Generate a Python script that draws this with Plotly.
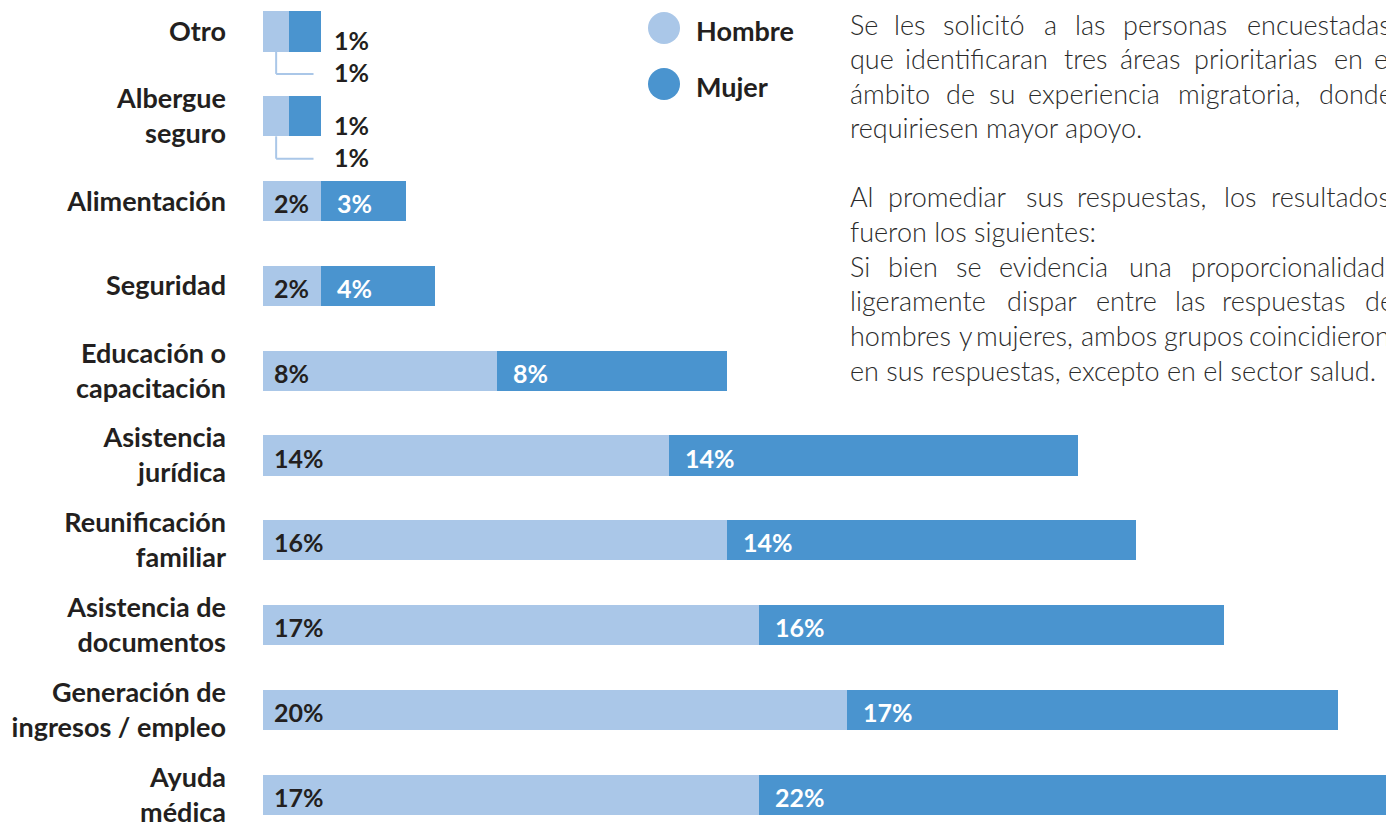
import plotly.graph_objects as go

# ---------------- data ----------------
categories = ["Otro", "Albergue<br>seguro", "Alimentación", "Seguridad",
              "Educación o<br>capacitación", "Asistencia<br>jurídica",
              "Reunificación<br>familiar", "Asistencia de<br>documentos",
              "Generación de<br>ingresos / empleo", "Ayuda<br>médica"]
hombre = [0.9, 0.9, 2.0, 2.0, 8.0, 13.9, 15.9, 17.0, 20.0, 17.0]
mujer = [1.1, 1.1, 2.9, 3.9, 7.9, 14.0, 14.0, 15.9, 16.8, 22.0]
series_names = ["Hombre", "Mujer"]

paragraph_lines = [
    "Se les solicitó a las personas encuestadas",
    "que identificaran tres áreas prioritarias en el",
    "ámbito de su experiencia migratoria, donde",
    "requiriesen mayor apoyo.",
    "",
    "Al promediar sus respuestas, los resultados",
    "fueron los siguientes:",
    "Si bien se evidencia una proporcionalidad",
    "ligeramente dispar entre las respuestas de",
    "hombres y mujeres, ambos grupos coincidieron",
    "en sus respuestas, excepto en el sector salud.",
]
justified = [True, True, True, False, False, True, False, True, True, True, False]

C_H = "#AAC7E8"
C_M = "#4A94CF"
C_TXT = "#231F20"
C_PAR = "#2B2B2B"
FONT = "Lato"

W, H = 1386, 823
PX_PER_UNIT = 29.2
X0_PX = 263
ROW_TOP = 31.5
ROW_STEP = 84.8


def pxx(px):
    return (px - X0_PX) / (W - X0_PX)


def pxy(py):
    return 1 - py / H


fig = go.Figure()
fig.add_trace(go.Bar(y=categories, x=hombre, orientation="h", name=series_names[0],
                     marker=dict(color=C_H, line=dict(width=0)), width=0.472,
                     hoverinfo="x+y"))
fig.add_trace(go.Bar(y=categories, x=mujer, orientation="h", name=series_names[1],
                     marker=dict(color=C_M, line=dict(width=0)), width=0.472,
                     hoverinfo="x+y"))

annotations = []
shapes = []
lab_font = dict(family=FONT, size=25, color=C_TXT, weight="bold")
for i, (cat, h, m) in enumerate(zip(categories, hombre, mujer)):
    if h >= 1.5:
        annotations.append(dict(x=0, y=cat, xref="x", yref="y", text=f"{round(h)}%",
                                showarrow=False, xanchor="left", yanchor="middle",
                                xshift=9, yshift=-2, font=dict(lab_font, color=C_TXT)))
        annotations.append(dict(x=h, y=cat, xref="x", yref="y", text=f"{round(m)}%",
                                showarrow=False, xanchor="left", yanchor="middle",
                                xshift=14, yshift=-2, font=dict(lab_font, color="white")))
    else:
        tot = h + m
        annotations.append(dict(x=tot, y=cat, xref="x", yref="y", text=f"{round(m)}%",
                                showarrow=False, xanchor="left", yanchor="middle",
                                xshift=11, yshift=-8.5, font=lab_font))
        annotations.append(dict(x=tot, y=cat, xref="x", yref="y", text=f"{round(h)}%",
                                showarrow=False, xanchor="left", yanchor="middle",
                                xshift=11, yshift=-40.5, font=lab_font))
        shapes.append(dict(type="line", xref="x", yref="y", x0=h / 2, x1=h / 2,
                           y0=i + 0.236, y1=i + 0.50, line=dict(color=C_H, width=2)))
        shapes.append(dict(type="line", xref="x", yref="y", x0=h / 2, x1=tot - 0.27,
                           y0=i + 0.50, y1=i + 0.50, line=dict(color=C_H, width=2)))

# legend (manual)
for name, col, cy in [(series_names[0], C_H, 28), (series_names[1], C_M, 84)]:
    r = 16
    shapes.append(dict(type="circle", xref="paper", yref="paper",
                       x0=pxx(664 - r), x1=pxx(664 + r),
                       y0=pxy(cy + r), y1=pxy(cy - r),
                       fillcolor=col, line=dict(width=0)))
    annotations.append(dict(x=pxx(694), y=pxy(cy + 2), xref="paper", yref="paper",
                            text=name, showarrow=False, xanchor="left", yanchor="middle",
                            font=dict(family=FONT, size=27, color=C_TXT, weight="bold")))

# ---- paragraph: justified text (approximate glyph widths of Lato, in em) ----
EM = {'a': .51, 'b': .56, 'c': .46, 'd': .56, 'e': .52, 'f': .32, 'g': .50, 'h': .56,
      'i': .24, 'j': .24, 'k': .50, 'l': .24, 'm': .84, 'n': .56, 'o': .56, 'p': .56,
      'q': .56, 'r': .37, 's': .42, 't': .35, 'u': .56, 'v': .50, 'w': .76, 'x': .49,
      'y': .50, 'z': .45, 'S': .50, 'A': .66, ',': .22, '.': .22, ':': .24,
      'ó': .56, 'á': .51, 'é': .52, 'í': .24, ' ': .19}
PSIZE = 27
KCORR = 1.016


def text_w(s):
    return sum(EM.get(ch, .5) for ch in s) * PSIZE * KCORR


L_PX, R_PX = 848, 1393
LINE0, LSTEP = 24, 34.6
for k, (line, just) in enumerate(zip(paragraph_lines, justified)):
    if not line:
        continue
    cy = LINE0 + k * LSTEP
    if just:
        words = line.split(" ")
        ws = [text_w(w) for w in words]
        gap = (R_PX - L_PX - sum(ws)) / (len(words) - 1)
        x = L_PX
        items = []
        for w, wd in zip(words, ws):
            items.append((w, x))
            x += wd + gap
    else:
        items = [(line, L_PX)]
    for w, x in items:
        annotations.append(dict(x=pxx(x), y=pxy(cy), xref="paper", yref="paper",
                                text=w, showarrow=False, xanchor="left", yanchor="middle",
                                font=dict(family=FONT, size=PSIZE, color=C_PAR, weight=300)))

x_max = (W - X0_PX) / PX_PER_UNIT
y_top = -ROW_TOP / ROW_STEP
y_bot = (H - ROW_TOP) / ROW_STEP

fig.update_layout(
    width=W, height=H, barmode="stack", showlegend=False,
    margin=dict(l=X0_PX, r=0, t=0, b=0),
    plot_bgcolor="white", paper_bgcolor="white",
    xaxis=dict(range=[0, x_max], visible=False, fixedrange=True),
    yaxis=dict(type="category", categoryorder="array", categoryarray=categories,
               range=[y_bot, y_top], showgrid=False, zeroline=False, showline=False,
               ticks="", ticklabelstandoff=36, automargin=False, fixedrange=True,
               tickfont=dict(family=FONT, size=27, color=C_TXT, weight="bold")),
    annotations=annotations, shapes=shapes,
)

fig.write_html("out.html", config={"displayModeBar": False},
               post_script="document.body.style.margin='0px';")
